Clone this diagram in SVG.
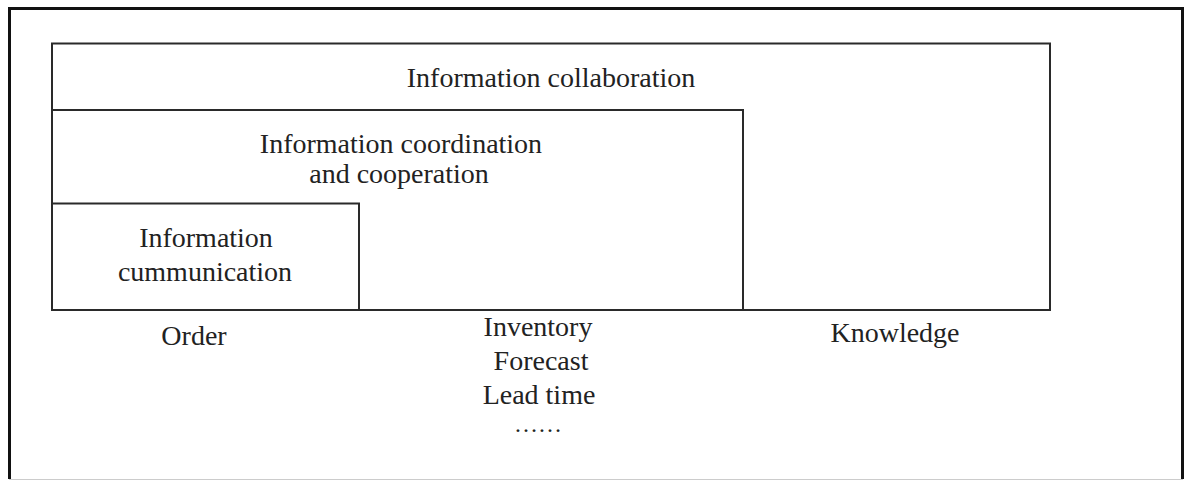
<svg xmlns="http://www.w3.org/2000/svg" width="1189" height="481" viewBox="0 0 1189 481">
  <style>
    .box { fill: none; stroke: #2a2a2a; stroke-width: 2; }
    .frame { fill: none; stroke: #111; stroke-width: 3; }
    text { font-family: "Liberation Serif", "Times New Roman", serif; font-size: 28px; fill: #222; text-anchor: middle; }
    .dots { font-size: 24px; }
  </style>
  <rect x="0" y="0" width="1189" height="481" fill="#fff"/>
  <g id="frame">
    <path class="frame" d="M9.5,479 L9.5,8.5 L1182.5,8.5 L1182.5,479"/>
    <line x1="9" y1="479.5" x2="1183" y2="479.5" stroke="#ccc" stroke-width="1"/>
  </g>
  <g id="collaboration">
    <rect class="box" x="52" y="43.5" width="998" height="266.5"/>
    <text x="551" y="87">Information collaboration</text>
  </g>
  <g id="coordination">
    <rect class="box" x="52" y="110" width="691" height="200"/>
    <text x="401" y="153">Information coordination</text>
    <text x="399" y="183">and cooperation</text>
  </g>
  <g id="communication">
    <rect class="box" x="52" y="203.5" width="307" height="106.5"/>
    <text x="206" y="247">Information</text>
    <text x="205" y="281">cummunication</text>
  </g>
  <g id="labels">
    <text x="194" y="345">Order</text>
    <text x="538" y="336">Inventory</text>
    <text x="541" y="370">Forecast</text>
    <text x="539" y="404">Lead time</text>
    <text class="dots" x="538" y="432">……</text>
    <text x="895" y="342">Knowledge</text>
  </g>
  <g id="connectors"></g>
</svg>
